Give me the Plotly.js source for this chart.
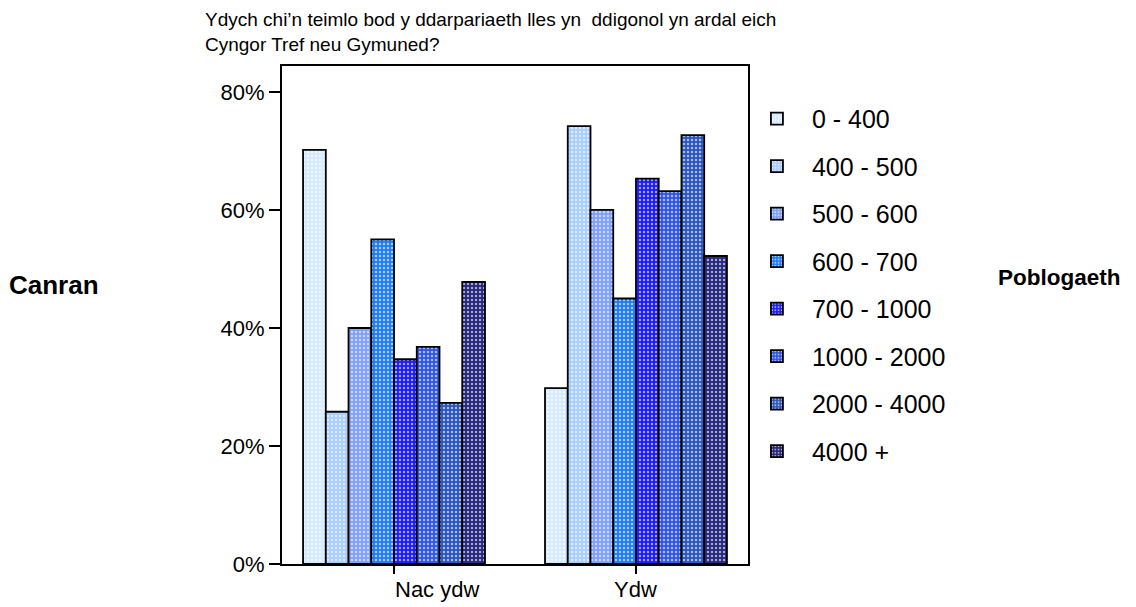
<!DOCTYPE html>
<html>
<head>
<meta charset="utf-8">
<script src="https://cdn.plot.ly/plotly-3.0.1.min.js"></script>
<style>html,body{margin:0;padding:0;background:#fff;}#chart{width:1136px;height:607px;}</style>
</head>
<body>
<div id="chart"></div>
<script>
const categories = ["Nac ydw", "Ydw"];
const seriesNames = ["0 - 400", "400 - 500", "500 - 600", "600 - 700", "700 - 1000", "1000 - 2000", "2000 - 4000", "4000 +"];
const values0_400 = [70.2, 29.8];
const values400_500 = [25.8, 74.2];
const values500_600 = [40.0, 60.0];
const values600_700 = [55.0, 45.0];
const values700_1000 = [34.7, 65.3];
const values1000_2000 = [36.8, 63.2];
const values2000_4000 = [27.3, 72.7];
const values4000plus = [47.8, 52.2];
const yTickVals = [0, 20, 40, 60, 80];
const yTickText = ["0%", "20%", "40%", "60%", "80%"];

const seriesValues = [values0_400, values400_500, values500_600, values600_700, values700_1000, values1000_2000, values2000_4000, values4000plus];
const colors = ["#d6ebff", "#a9cdfd", "#7f9ffc", "#1f7cf8", "#1a1afa", "#2f55e6", "#2a55bd", "#24257c"];
const labelShift = [43, 0];

const font = "Liberation Sans, Arial, sans-serif";

const traces = seriesNames.map((name, i) => ({
  type: "bar",
  name: name,
  x: categories,
  y: seriesValues[i],
  legendgroup: "g" + i,
  marker: {
    color: colors[i],
    line: {color: "#000", width: 1.8},
    pattern: {shape: ".", fgcolor: "#ffffff", bgcolor: colors[i], size: 4, solidity: 0.3, fgopacity: 0.6}
  },
  hoverinfo: "name+y"
}));

const catAnnotations = categories.map((c, i) => ({
  text: c, xref: "x", yref: "paper", x: c, y: 0, yanchor: "top", xanchor: "center",
  xshift: labelShift[i], yshift: -11, showarrow: false,
  font: {family: font, size: 22, color: "#000"}
}));

const layout = {
  width: 1136, height: 607,
  margin: {l: 282, r: 388, t: 66, b: 43, pad: 0},
  paper_bgcolor: "#fff", plot_bgcolor: "#fff",
  font: {family: font, size: 22, color: "#000"},
  barmode: "group",
  bargap: 0.248,
  bargroupgap: 0,
  showlegend: true,
  legend: {
    x: 0.987, xanchor: "left", y: 0.94, yanchor: "top",
    font: {family: font, size: 25, color: "#000"},
    tracegroupgap: 12,
    itemwidth: 60,
    bgcolor: "rgba(0,0,0,0)"
  },
  xaxis: {
    type: "category",
    range: [-0.463, 1.463],
    showline: true, linecolor: "#000", linewidth: 2, mirror: true,
    ticks: "outside", ticklen: 8, tickwidth: 1.5, tickcolor: "#000",
    showticklabels: false,
    showgrid: false, zeroline: false
  },
  yaxis: {
    range: [0, 84.4],
    tickvals: yTickVals, ticktext: yTickText,
    showline: true, linecolor: "#000", linewidth: 2, mirror: true,
    ticks: "outside", ticklen: 11, tickwidth: 1.5, tickcolor: "#000",
    showgrid: false, zeroline: false,
    tickfont: {family: font, size: 22, color: "#000"}
  },
  annotations: [
    {text: "Ydych chi’n teimlo bod y ddarpariaeth lles yn \u00a0ddigonol yn ardal eich<br>Cyngor Tref neu Gymuned?",
     xref: "paper", yref: "paper", x: -0.17, y: 1.0, xanchor: "left", yanchor: "bottom", yshift: 9,
     align: "left", showarrow: false, font: {family: font, size: 19, color: "#000"}},
    {text: "<b>Canran</b>", xref: "paper", yref: "paper", x: -0.59, y: 0.56, xanchor: "left", yanchor: "middle",
     showarrow: false, font: {family: font, size: 26, color: "#000"}},
    {text: "<b>Poblogaeth</b>", xref: "paper", yref: "paper", x: 1.532, y: 0.575, xanchor: "left", yanchor: "middle",
     showarrow: false, font: {family: font, size: 22.5, color: "#000"}}
  ].concat(catAnnotations)
};

Plotly.newPlot("chart", traces, layout, {displayModeBar: false, staticPlot: true});
</script>
</body>
</html>
